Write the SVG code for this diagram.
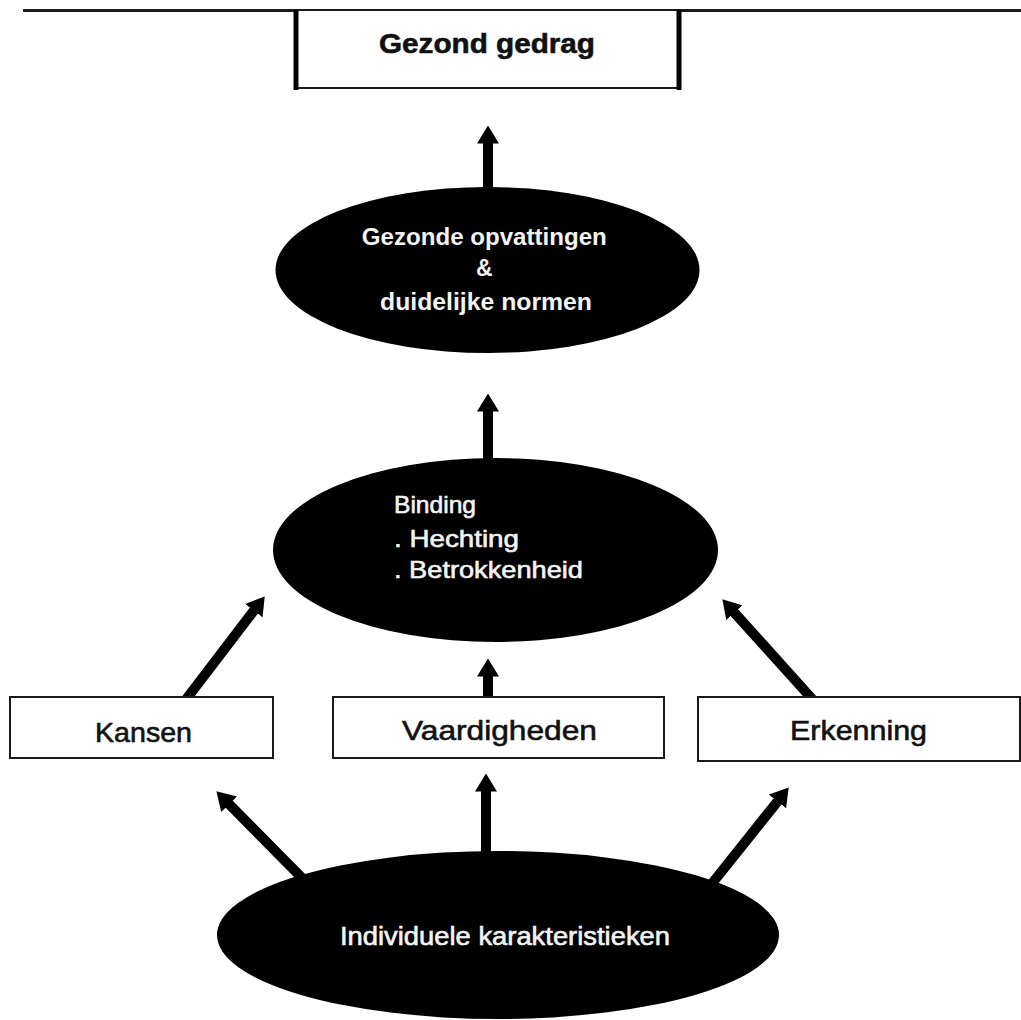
<svg xmlns="http://www.w3.org/2000/svg" width="1021" height="1020" viewBox="0 0 1021 1020">
<defs>
<style>
.box{fill:#fff;stroke:#1a1a1a;stroke-width:2}
.ell{fill:#000}
.bt{font-family:"Liberation Sans",Arial,sans-serif;fill:#111;font-size:28px;stroke:#111;stroke-width:0.6}
.wt{font-family:"Liberation Sans",Arial,sans-serif;fill:#f4f4f4}
.wm{stroke:#f4f4f4;stroke-width:0.6}
.arr{stroke:#000;stroke-width:10;fill:none;marker-end:url(#ah)}
</style>
<marker id="ah" markerUnits="userSpaceOnUse" viewBox="0 0 18 22" refX="0.5" refY="11" markerWidth="18" markerHeight="22" orient="auto">
<path d="M0,0 L18,11 L0,22 z" fill="#000"/>
</marker>
</defs>
<rect width="1021" height="1020" fill="#fff"/>
<g id="connectors">
<line class="arr" x1="488" y1="192" x2="488" y2="143"/>
<line class="arr" x1="488" y1="462" x2="488" y2="411"/>
<line class="arr" x1="181" y1="706" x2="254.1" y2="610.3"/>
<line class="arr" x1="488" y1="700" x2="488" y2="676"/>
<line class="arr" x1="814" y1="701" x2="734.1" y2="612.3"/>
<line class="arr" x1="306" y1="882" x2="228.7" y2="803.8"/>
<line class="arr" x1="486" y1="856" x2="486" y2="791"/>
<line class="arr" x1="710" y1="886" x2="777.8" y2="801.1"/>
</g>
<g id="top-line">
<line x1="23" y1="10.5" x2="1021" y2="10.5" stroke="#1a1a1a" stroke-width="3"/>
</g>
<g id="gezond-gedrag">
<rect x="296" y="11" width="383" height="77" fill="#fff"/>
<line x1="296" y1="88" x2="679" y2="88" stroke="#1a1a1a" stroke-width="2"/>
<line x1="296" y1="10" x2="296" y2="90" stroke="#000" stroke-width="5"/>
<line x1="679" y1="10" x2="679" y2="90" stroke="#000" stroke-width="5"/>
<text class="bt" x="487" y="53" text-anchor="middle" font-weight="bold" stroke-width="0" textLength="216" lengthAdjust="spacingAndGlyphs">Gezond gedrag</text>
</g>
<g id="opvattingen">
<ellipse class="ell" cx="487.5" cy="270" rx="212" ry="83"/>
<text class="wt" font-size="23" font-weight="bold" text-anchor="middle">
<tspan x="487.5" y="245" textLength="245" lengthAdjust="spacingAndGlyphs">Gezonde opvattingen</tspan>
<tspan x="487.5" y="276">&amp;</tspan>
<tspan x="486" y="310" textLength="212" lengthAdjust="spacingAndGlyphs">duidelijke normen</tspan>
</text>
</g>
<g id="binding">
<ellipse class="ell" cx="495.5" cy="550" rx="222.5" ry="92"/>
<text class="wt wm" font-size="24">
<tspan x="394" y="513" textLength="82" lengthAdjust="spacingAndGlyphs">Binding</tspan>
<tspan x="394" y="547" textLength="125" lengthAdjust="spacingAndGlyphs">. Hechting</tspan>
<tspan x="394" y="578" textLength="189" lengthAdjust="spacingAndGlyphs">. Betrokkenheid</tspan>
</text>
</g>
<g id="kansen">
<rect class="box" x="10" y="697" width="263" height="61"/>
<text class="bt" x="143.5" y="742" text-anchor="middle" textLength="97" lengthAdjust="spacingAndGlyphs">Kansen</text>
</g>
<g id="vaardigheden">
<rect class="box" x="333" y="697" width="331" height="61"/>
<text class="bt" x="499.5" y="740" text-anchor="middle" textLength="195" lengthAdjust="spacingAndGlyphs">Vaardigheden</text>
</g>
<g id="erkenning">
<rect class="box" x="698" y="697" width="322" height="64"/>
<text class="bt" x="858.5" y="740" text-anchor="middle" textLength="137" lengthAdjust="spacingAndGlyphs">Erkenning</text>
</g>
<g id="individuele">
<ellipse class="ell" cx="498" cy="935" rx="281" ry="84"/>
<text class="wt wm" font-size="25" x="505" y="945" text-anchor="middle" textLength="330" lengthAdjust="spacingAndGlyphs">Individuele karakteristieken</text>
</g>
</svg>
